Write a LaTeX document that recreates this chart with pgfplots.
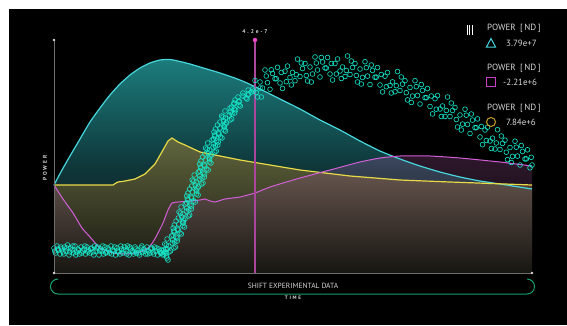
\documentclass[border=0pt]{standalone}
\usepackage{pgfplots}
\pgfplotsset{compat=1.18}
\usepackage{fontspec}
\setmainfont{PT Sans}
\newfontfamily\spaced[LetterSpace=35]{PT Sans}
\definecolor{tealtop}{RGB}{28,124,124}
\definecolor{tealmid}{RGB}{15,55,58}
\definecolor{tealbot}{RGB}{14,16,18}
\definecolor{cyanline}{RGB}{70,215,220}
\definecolor{yelline}{RGB}{232,218,70}
\definecolor{yeltop}{RGB}{162,130,55}
\definecolor{yelbot}{RGB}{30,28,14}
\definecolor{magline}{RGB}{210,95,215}
\definecolor{magtop}{RGB}{210,110,200}
\definecolor{magbot}{RGB}{30,22,28}
\definecolor{scat}{RGB}{20,235,205}
\definecolor{txt}{RGB}{215,215,215}
\definecolor{axgray}{RGB}{110,110,110}
\definecolor{vline}{RGB}{170,70,155}
\definecolor{vdot}{RGB}{240,70,200}
\definecolor{bracket}{RGB}{20,160,110}
\definecolor{goldc}{RGB}{200,160,40}
\definecolor{legmag}{RGB}{200,60,200}
\pgfdeclareverticalshading{tealsh}{100bp}{color(0bp)=(tealbot); color(25bp)=(tealbot); color(50bp)=(tealmid); color(75bp)=(tealtop); color(100bp)=(tealtop)}
\pgfplotstableread{
x y
0 88
8 103
16 117
26 134
36 151
46 165
56 178
66 189
76 198
86 205
96 210
106 213
116 213.5
126 211.5
136 209
146 206
166 200
186 193
206 184
226 174
246 164
266 153
286 143
306 132
326 122
346 114
366 107
386 101
406 96
426 92
446 89
478 84
}\cyandata
\pgfplotstableread{
x y
0 88
59 88
62 90
64 91
71 92
81 94
91 99
101 109
109 123
114 132
118 135
124 131
131 128
146 121
161 118
186 113
216 108
246 103
296 97
346 93
396 91
478 88
}\yeldata
\pgfplotstableread{
x y
0 88
9 74
19 60
28 45
36 36
46 25
59 20
73 19
86 21
94 25
99 31
104 40
109 50
114 63
118 70
124 71
136 72
146 73
151 74
156 72
161 71
171 74
186 76
201 80
216 86
246 95
276 103
306 111
326 115
346 117
376 117
406 115
446 111
478 107
}\magdata
\begin{document}
\begin{tikzpicture}[x=1pt,y=1pt]
\path[use as bounding box] (0,0) rectangle (567,325);
\fill[white] (0,0) rectangle (567,325);
\fill[black] (9,0) rectangle (567,316);
\begin{axis}[at={(54pt,52pt)}, anchor=south west, width=478pt, height=233pt,
  scale only axis, xmin=0, xmax=478, ymin=0, ymax=233, hide axis, clip=false]
\addplot[draw=none, shade, shading=tealsh, smooth, tension=0.4] table {\cyandata} \closedcycle;
\addplot[draw=none, top color=yeltop, bottom color=yelbot, fill opacity=0.55] table {\yeldata} \closedcycle;
\addplot[draw=none, top color=magtop, bottom color=magbot, fill opacity=0.22, smooth, tension=0.3] table {\magdata} \closedcycle;
\addplot[cyanline, line width=1.2pt, no marks, smooth, tension=0.4] table {\cyandata};
\addplot[yelline, line width=1.2pt, no marks] table {\yeldata};
\addplot[magline, line width=1pt, no marks, smooth, tension=0.3] table {\magdata};
\addplot[vline, line width=1.2pt, no marks] coordinates {(201,0) (201,233)};
\addplot[only marks, mark=*, mark size=2pt, color=vdot] coordinates {(201,233)};
\addplot[only marks, mark=o, mark size=2.4pt, scat, line width=0.6pt] coordinates {
(0,25)(1.5,20)(3,27)(4.5,23)(6,19)(7.5,24)(9,21)(10.5,26)(12,22)(13.5,28)
(15,18)(16.5,25)(18,23)(19.5,20)(21,27)(22.5,21)(24,24)(25.5,19)(27,26)(28.5,22)
(30,24)(31.5,19)(33,26)(34.5,23)(36,20)(37.5,25)(39,21)(40.5,27)(42,22)(43.5,26)
(45,18)(46.5,24)(48,22)(49.5,19)(51,26)(52.5,21)(54,25)(55.5,20)(57,27)(58.5,23)
(60,22)(61.5,18)(63,25)(64.5,21)(66,19)(67.5,24)(69,20)(70.5,26)(72,22)(73.5,27)
(75,18)(76.5,24)(78,22)(79.5,19)(81,26)(82.5,20)(84,23)(85.5,18)(87,25)(88.5,21)
(90,24)(91.5,19)(93,26)(94.5,22)(96,20)(97.5,25)(99,21)(100.5,26)(102,22)(103.5,18)
(105,24)(106.5,20)(108,23)(109.5,19)(111,21)(112.5,17)(113,15)(114,13)(112,20)
(0.8,22)(3.8,24)(6.8,26)(9.8,19)(12.8,25)(15.8,21)(18.8,27)(21.8,18)(24.8,23)(27.8,20)
(30.8,27)(33.8,21)(36.8,24)(39.8,18)(42.8,25)(45.8,22)(48.8,27)(51.8,20)(54.8,23)(57.8,19)
(60.8,26)(63.8,22)(66.8,27)(69.8,23)(72.8,19)(75.8,26)(78.8,21)(81.8,24)(84.8,20)(87.8,27)
(90.8,22)(93.8,19)(96.8,24)(99.8,19)(102.8,25)(105.8,22)(108.8,18)(111.8,24)
(107.5,20)(116.5,22)(113.4,24)(121.4,26)(112.3,28)(118.2,30)(123.2,32)(113.1,34)(122.1,36)(119,38)
(125.9,40)(119.7,42)(123.6,44)(130.5,46)(120.4,48)(129.2,50)(122.1,52)(131,54)(127.8,56)(135.7,58)
(126.6,60)(132.4,62)(137.3,64)(127.1,66)(135.9,68)(132.8,70)(139.6,72)(133.4,74)(137.3,76)(144.1,78)
(133.9,80)(142.7,82)(135.6,84)(144.4,86)(141.2,88)(149,90)(139.8,92)(145.6,94)(150.4,96)(140.2,98)
(149,100)(145.8,102)(152.6,104)(146.4,106)(150.2,108)(157,110)(146.9,112)(155.7,114)(148.6,116)(157.5,118)
(154.4,120)(162.2,122)(153.1,124)(159,126)(163.8,128)(153.7,130)(162.6,132)(159.5,134)(166.5,136)(160.5,138)
(164.5,140)(171.5,142)(161.5,144)(170.5,146)(163.5,148)(172.5,150)(169.5,152)(177.7,154)(169,156)(175.3,158)
(180.7,160)(171,162)(180.3,164)(177.7,166)(185,168)(180,170)(185,172)(193,174)(184,176)(194,178)
(188.9,180)(199.7,182)(198.6,184)
(115,21)(109.9,23)(119.9,25)(114.8,27)(110.8,29)(120.7,31)(118.6,33)(123.6,35)(117.5,37)(127.4,39)
(120.3,41)(124.2,43)(119.1,45)(128.9,47)(124.8,49)(128.7,51)(129.5,53)(124.4,55)(134.3,57)(129.1,59)
(125,61)(134.8,63)(132.7,65)(137.5,67)(131.3,69)(141.2,71)(134,73)(137.8,75)(132.7,77)(142.5,79)
(138.3,81)(142.1,83)(143,85)(137.8,87)(147.6,89)(142.4,91)(138.2,93)(148,95)(145.8,97)(150.6,99)
(144.4,101)(154.2,103)(147,105)(150.8,107)(145.6,109)(155.4,111)(151.3,113)(155.2,115)(156,117)(150.9,119)
(160.8,121)(155.7,123)(151.5,125)(161.4,127)(159.3,129)(164.2,131)(158,133)(168,135)(161,137)(165,139)
(160,141)(170,143)(166,145)(170,147)(171,149)(166,151)(176,153)(171.3,155)(167.7,157)(178,159)
(176.3,161)(181.7,163)(176,165)(186.3,167)(180,169)(185,171)(181,173)(192,175)(189,177)(194.5,179)
(197.3,181)(194.2,183)(206,185)
(201,192.5)(203.5,176)(206,191)(208.5,185)(211,203)(213.5,190.3)(216,183.7)(218.5,199.5)(221,194.3)(223.5,205.7)
(226,190)(228.5,184.6)(231,201.8)(233.5,206.9)(236,195.5)(238.5,200.6)(241,192.3)(243.5,213.9)(246,196.5)(248.5,204.5)
(251,209.5)(253.5,192)(256,206)(258.5,199)(261,216)(263.5,203)(266,196)(268.5,211)(271,205)(273.5,215.5)
(276,199)(278.5,193)(281,209.5)(283.5,214)(286,202)(288.5,206)(291,196.5)(293.5,217)(296,198.5)(298.5,205.5)
(301,209.5)(303.5,191)(306,204)(308.5,195.6)(311,211.3)(313.5,196.9)(316,188.5)(318.5,202.6)(321,195.8)(323.5,205.4)
(326,188)(328.5,181.1)(331,196.8)(333.5,200.4)(336,187.5)(338.5,191.1)(341,181.3)(343.5,201.4)(346,182.5)(348.5,188.9)
(351,192.3)(353.5,173.1)(356,185.5)(358.5,176.9)(361,192.3)(363.5,177.6)(366,169)(368.5,182.6)(371,175.3)(373.5,184.4)
(376,166.5)(378.5,159.1)(381,174.3)(383.5,177.4)(386,164)(388.5,167)(391,156.5)(393.5,176)(396,156.5)(398.5,162.5)
(401,165.5)(403.5,146)(406,158)(408.5,148.9)(411,163.8)(413.5,148.6)(416,139.5)(418.5,152.9)(421,145.3)(423.5,154.1)
(426,136)(428.5,128.3)(431,143)(433.5,145.8)(436,132)(438.5,134.8)(441,124)(443.5,143.3)(446,123.5)(448.5,129.6)
(451,132.8)(453.5,113.4)(456,125.5)(458.5,116.6)(461,131.8)(463.5,116.9)(466,108)(468.5,121.6)(471,114.1)(473.5,123.2)
(476,105.2)
(202.3,180.5)(207.3,176)(212.3,197)(217.3,203.2)(222.3,194.3)(227.3,200.5)(232.3,191.3)(237.3,188)(242.3,198.3)(247.3,210)
(252.3,197.5)(257.3,191)(262.3,210)(267.3,215.5)(272.3,205)(277.3,209.5)(282.3,199)(287.3,194.5)(292.3,202.5)(297.3,212)
(302.3,197.5)(307.3,189)(312.3,205.3)(317.3,208)(322.3,195.8)(327.3,198.5)(332.3,186.3)(337.3,180)(342.3,187.3)(347.3,196)
(352.3,180.3)(357.3,170.5)(362.3,186.3)(367.3,188.5)(372.3,175.3)(377.3,177)(382.3,163.8)(387.3,156.5)(392.3,162.5)(397.3,170)
(402.3,153.5)(407.3,143)(412.3,157.8)(417.3,159)(422.3,145.3)(427.3,146.5)(432.3,132.5)(437.3,124.5)(442.3,130)(447.3,137)
(452.3,120.8)(457.3,110.5)(462.3,125.8)(467.3,127.5)(472.3,114.1)(477.3,115.7)(478,108)
};
\end{axis}
% axes
\draw[axgray, line width=1pt] (54,285) -- (54,52) -- (532,52);
\fill[white!85!black] (54,285) circle (1.3);
\fill[white!85!black] (54,52) circle (1.3);
\fill[white!85!black] (532,52) circle (1.3);
% marker label
\node[txt, font=\spaced\bfseries\fontsize{5.5}{6}\selectfont] at (255,293) {4.2e-7};
% y label
\node[txt, rotate=90, font=\spaced\bfseries\fontsize{5.5}{6}\selectfont] at (45,157) {POWER};
% bracket
\draw[bracket, line width=1pt] (58,46) arc[start angle=90, end angle=270, radius=7.5] -- (527,31) arc[start angle=-90, end angle=90, radius=7.5];
\node[txt, font=\fontsize{7.5}{8}\selectfont] at (293,39) {SHIFT EXPERIMENTAL DATA};
\node[txt, font=\spaced\bfseries\fontsize{5}{6}\selectfont] at (293,27) {TIME};
% legend
\foreach \xx in {467,469.5,472} \draw[white, line width=1pt] (\xx,290) -- (\xx,300);
\node[txt, anchor=west, font=\fontsize{9}{10}\selectfont, inner sep=0] at (487,297) {POWER\enspace[\,ND\,]};
\draw[cyanline, line width=1pt] (486.5,278) -- (495.5,278) -- (491,286.5) -- cycle;
\node[txt, anchor=west, font=\fontsize{9}{10}\selectfont, inner sep=0] at (506,282) {3.79e+7};
\node[txt, anchor=west, font=\fontsize{9}{10}\selectfont, inner sep=0] at (487,257) {POWER\enspace[\,ND\,]};
\draw[legmag, line width=1pt] (486.5,238.5) rectangle (495.5,247.5);
\node[txt, anchor=west, font=\fontsize{9}{10}\selectfont, inner sep=0] at (503,243) {-2.21e+6};
\node[txt, anchor=west, font=\fontsize{9}{10}\selectfont, inner sep=0] at (487,217) {POWER\enspace[\,ND\,]};
\draw[goldc, line width=1pt] (491,203) circle (4.5);
\node[txt, anchor=west, font=\fontsize{9}{10}\selectfont, inner sep=0] at (506,203) {7.84e+6};
\end{tikzpicture}
\end{document}
